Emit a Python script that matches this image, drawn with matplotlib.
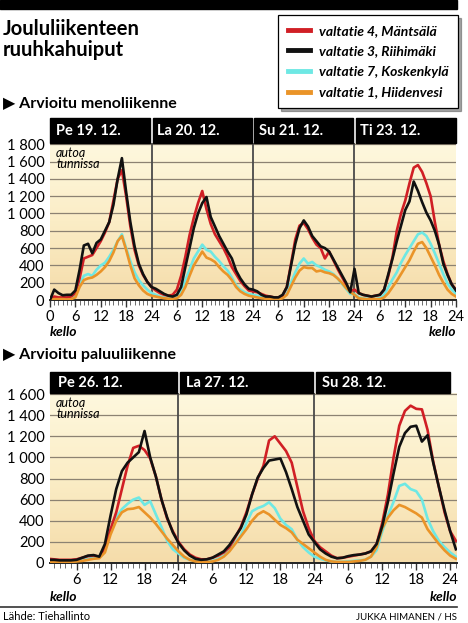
"""Joululiikenteen ruuhkahuiput - recreated chart."""

import matplotlib

matplotlib.use("Agg")
import matplotlib.pyplot as plt
import numpy as np
from matplotlib.colors import LinearSegmentedColormap
from matplotlib.lines import Line2D
from matplotlib.patches import Rectangle
from matplotlib.transforms import blended_transform_factory

plt.rcParams["font.family"] = ["Lato", "DejaVu Sans"]

W, H = 468, 623

# ---- data: cars per hour, outbound (hours 0..96 across four days) ----
OUT_DAYS = ["Pe 19. 12.", "La 20. 12.", "Su 21. 12.", "Ti 23. 12."]
OUT_HOURS = np.arange(0, 97)
OUT_RED = [
    0, 40, 30, 30, 30, 40, 80, 250, 480, 500, 520, 600, 680, 780, 900, 1150, 1400, 1500, 1200, 850, 580, 400, 290, 210,
    150, 110, 80, 60, 50, 60, 120, 280, 500, 750, 950, 1120, 1260, 1050, 880, 760, 680, 600, 500, 380, 300, 220, 160, 110,
    100, 90, 70, 50, 40, 30, 30, 50, 150, 420, 700, 860, 890, 820, 720, 640, 600, 480, 560, 460, 360, 270, 180, 100,
    120, 80, 60, 50, 40, 50, 60, 120, 280, 500, 800, 1000, 1150, 1350, 1530, 1560, 1480, 1350, 1200, 900, 640, 450, 300, 180,
    120,
]
OUT_BLACK = [
    0, 120, 80, 55, 60, 60, 110, 350, 630, 650, 540, 660, 700, 800, 900, 1100, 1400, 1640, 1250, 900, 620, 420, 300, 210,
    150, 130, 100, 70, 50, 40, 60, 150, 380, 600, 830, 1000, 1120, 1190, 960, 850, 740, 650, 560, 480, 340, 250, 180, 130,
    120, 100, 60, 40, 40, 30, 30, 60, 150, 400, 650, 830, 920, 850, 740, 680, 620, 600, 560, 470, 380, 290, 200, 90,
    360, 80, 60, 50, 40, 50, 60, 120, 300, 480, 680, 860, 1040, 1140, 1370, 1260, 1130, 1010, 920, 800, 640, 420, 290, 180,
    110,
]
OUT_CYAN = [
    0, 15, 15, 10, 10, 15, 50, 180, 280, 300, 280, 350, 400, 430, 500, 580, 680, 760, 600, 450, 320, 230, 170, 120,
    80, 60, 40, 30, 20, 20, 40, 100, 230, 350, 480, 560, 640, 580, 560, 500, 450, 390, 340, 260, 170, 120, 90, 70,
    60, 50, 40, 20, 15, 10, 10, 30, 80, 200, 320, 420, 480, 420, 440, 400, 380, 350, 330, 300, 250, 190, 130, 70,
    70, 30, 20, 15, 10, 10, 20, 60, 150, 240, 320, 430, 520, 600, 680, 760, 780, 740, 650, 540, 420, 300, 190, 120,
    70,
]
OUT_ORANGE = [
    0, 10, 10, 10, 5, 10, 30, 150, 230, 250, 260, 290, 330, 380, 450, 550, 680, 740, 580, 400, 250, 170, 110, 70,
    50, 40, 30, 20, 15, 15, 20, 60, 150, 280, 400, 480, 560, 490, 470, 440, 380, 330, 290, 230, 150, 100, 70, 50,
    40, 30, 20, 15, 10, 10, 10, 20, 60, 160, 260, 340, 380, 370, 370, 330, 340, 320, 310, 290, 250, 200, 140, 90,
    60, 20, 15, 10, 10, 10, 10, 30, 80, 150, 220, 300, 380, 460, 560, 650, 670, 600, 500, 400, 290, 200, 120, 70,
    40,
]

# ---- data: return traffic (hours 1..73 across three days) ----
RET_DAYS = ["Pe 26. 12.", "La 27. 12.", "Su 28. 12."]
RET_HOURS = np.arange(1, 74)
RET_RED = [
    40, 35, 30, 30, 30, 35, 50, 65, 70, 60, 130, 320, 480, 700, 920, 1090, 1110, 1070, 990, 820, 600, 420, 300, 200,
    130, 80, 50, 35, 35, 50, 70, 100, 150, 240, 340, 480, 650, 800, 920, 1160, 1200, 1130, 1060, 950, 720, 490, 330, 210,
    150, 110, 70, 45, 50, 60, 70, 80, 90, 110, 180, 380, 650, 1000, 1300, 1440, 1490, 1460, 1455, 1260, 960, 720, 480, 300,
    210,
]
RET_BLACK = [
    30, 30, 25, 25, 25, 30, 50, 70, 75, 60, 180, 450, 700, 870, 950, 1000, 1050, 1250, 1000, 820, 600, 430, 290, 190,
    120, 70, 40, 30, 35, 50, 80, 110, 170, 250, 330, 460, 650, 810, 900, 970, 980, 990, 860, 700, 530, 400, 270, 200,
    130, 90, 60, 45, 50, 65, 75, 80, 90, 110, 180, 350, 580, 850, 1100, 1230, 1290, 1300, 1150, 1210, 950, 720, 500, 300,
    130,
]
RET_CYAN = [
    15, 15, 15, 15, 15, 20, 30, 40, 50, 55, 120, 300, 430, 510, 560, 600, 620, 550, 585, 460, 340, 210, 130, 90,
    50, 30, 20, 15, 15, 20, 40, 70, 120, 190, 260, 380, 490, 520, 540, 575, 520, 420, 360, 320, 220, 150, 100, 60,
    40, 25, 15, 10, 10, 15, 20, 25, 30, 60, 120, 300, 450, 580, 730, 750, 700, 680, 600, 420, 300, 210, 150, 100,
    60,
]
RET_ORANGE = [
    10, 10, 10, 10, 10, 15, 20, 30, 40, 45, 100, 270, 400, 480, 510, 515, 530, 480, 430, 370, 300, 230, 170, 110,
    60, 30, 15, 10, 10, 15, 30, 60, 110, 180, 250, 320, 400, 460, 490, 460, 410, 360, 330, 290, 220, 180, 140, 100,
    60, 30, 15, 10, 10, 10, 15, 20, 30, 60, 150, 330, 430, 500, 550, 530, 500, 470, 430, 320, 250, 180, 120, 70,
    40,
]

LABELS = ["valtatie 4, Mäntsälä", "valtatie 3, Riihimäki", "valtatie 7, Koskenkylä", "valtatie 1, Hiidenvesi"]
COLORS = ["#d01f25", "#111111", "#6ee8e4", "#ea9428"]

BG = LinearSegmentedColormap.from_list("bg", ["#fef8de", "#fbedc6", "#f5dcaa"])


def px_axes(fig, x0, y0, x1, y1):
    return fig.add_axes([x0 / W, 1 - y1 / H, (x1 - x0) / W, (y1 - y0) / H])


def fmt_thousands(v):
    v = int(v)
    return f"{v // 1000} {v % 1000:03d}" if v >= 1000 else str(v)


def panel(fig, box, header_px, hours, series, days, xlim, ymax, yticks, xticks):
    ax = px_axes(fig, *box)
    box_h = box[3] - box[1]
    ax.set_xlim(*xlim)
    ax.set_ylim(0, ymax)
    ax.imshow(np.linspace(0, 1, 256).reshape(-1, 1), cmap=BG, aspect="auto",
              extent=(xlim[0], xlim[1], 0, ymax), zorder=0)
    for y in yticks[1:]:
        ax.axhline(y, color="#8c8272", lw=0.9, zorder=1)
    for d in range(1, len(days)):
        ax.axvline(24 * d, color="#4a4a4a", lw=1.3, zorder=2)
    # draw order: orange, cyan, red, black
    for idx in [3, 2, 0, 1]:
        ax.plot(hours, series[idx], color=COLORS[idx], lw=1.9, zorder=3 + idx % 2,
                solid_joinstyle="round")

    # day headers (black bands above the plot)
    trans = blended_transform_factory(ax.transData, ax.transAxes)
    hh = header_px / box_h
    pad = 0.25
    for d, name in enumerate(days):
        x0 = max(24 * d, xlim[0])
        x1 = min(24 * (d + 1), xlim[1])
        left = x0 + (pad if d > 0 else 0)
        right = x1 - (pad if d < len(days) - 1 else 0)
        ax.add_patch(Rectangle((left, 1.0), right - left, hh, transform=trans,
                               clip_on=False, color="black", zorder=5))
        ax.text(x0 + 1.4, 1.0 + hh * 0.47, name, transform=trans, color="white",
                fontsize=10.5, fontweight="bold", va="center", ha="left", zorder=6)

    ax.text(0.015, 1 - 4 / box_h, "autoa\ntunnissa", transform=ax.transAxes, fontsize=9,
            style="italic", va="top", ha="left", linespacing=0.85, zorder=6)

    for s in ["top", "right", "left"]:
        ax.spines[s].set_visible(False)
    ax.spines["bottom"].set_color("#222222")
    ax.spines["bottom"].set_linewidth(1.4)
    ax.set_yticks(yticks)
    ax.set_yticklabels([fmt_thousands(v) for v in yticks], fontsize=10.5)
    ax.tick_params(axis="y", length=0, pad=4)
    ax.set_xticks(xticks)
    ax.set_xticklabels([("0" if h == 0 else str(h % 24 or 24)) for h in xticks], fontsize=10.5)
    ax.set_xticks(np.arange(int(np.ceil(xlim[0])), int(xlim[1]) + 1), minor=True)
    ax.tick_params(axis="x", which="major", length=5, width=1.0, color="#333333", pad=2)
    ax.tick_params(axis="x", which="minor", length=3.5, width=0.6, color="#555555")
    ax.text(0.0, -0.165, "kello", transform=ax.transAxes, fontsize=10, fontweight="bold",
            style="italic", ha="left", va="top")
    ax.text(1.0, -0.165, "kello", transform=ax.transAxes, fontsize=10, fontweight="bold",
            style="italic", ha="right", va="top")
    return ax


fig = plt.figure(figsize=(W / 100, H / 100), dpi=100)

# top black bar
fig.patches.append(Rectangle((0, 1 - 9 / H), 457 / W, 9 / H, transform=fig.transFigure,
                             color="black", zorder=10))

fig.text(3 / W, 1 - 19 / H, "Joululiikenteen\nruuhkahuiput", fontsize=14.5, fontweight="bold",
         va="top", ha="left", linespacing=1.05)

fig.text(3 / W, 1 - 103 / H, "\u25b6 Arvioitu menoliikenne", fontsize=11.5, fontweight="bold",
         va="center", ha="left", family=["Lato", "DejaVu Sans"])
fig.text(3 / W, 1 - 355 / H, "\u25b6 Arvioitu paluuliikenne", fontsize=11.5, fontweight="bold",
         va="center", ha="left", family=["Lato", "DejaVu Sans"])

ax_out = panel(fig, (50, 143, 456, 300), 25, OUT_HOURS,
               [OUT_RED, OUT_BLACK, OUT_CYAN, OUT_ORANGE], OUT_DAYS,
               (0, 96), 1815, list(range(0, 1801, 200)), list(range(0, 97, 6)))
ax_ret = panel(fig, (50, 393, 457, 563), 21, RET_HOURS,
               [RET_RED, RET_BLACK, RET_CYAN, RET_ORANGE], RET_DAYS,
               (1.3, 73.2), 1610, list(range(0, 1601, 200)), list(range(6, 73, 6)))

handles = [Line2D([], [], color=c, lw=3.5) for c in COLORS]
leg = fig.legend(handles, LABELS, loc="upper right", bbox_to_anchor=(458 / W, 1 - 15 / H),
                 borderaxespad=0, frameon=True, shadow=True, fancybox=False, edgecolor="black",
                 handlelength=1.6, handletextpad=0.6, labelspacing=0.62, borderpad=0.7,
                 prop={"size": 10, "style": "italic", "weight": "bold"})
leg.get_frame().set_linewidth(0.9)

# footer
fig.add_artist(Line2D([0, 457 / W], [1 - 607 / H, 1 - 607 / H], color="#333333", lw=1.2,
                      transform=fig.transFigure))
fig.text(3 / W, 1 - 617 / H, "Lähde: Tiehallinto", fontsize=8, va="center", ha="left")
fig.text(457 / W, 1 - 617 / H, "JUKKA HIMANEN / HS", fontsize=7, va="center", ha="right")

fig.savefig("out.png", dpi=100)
